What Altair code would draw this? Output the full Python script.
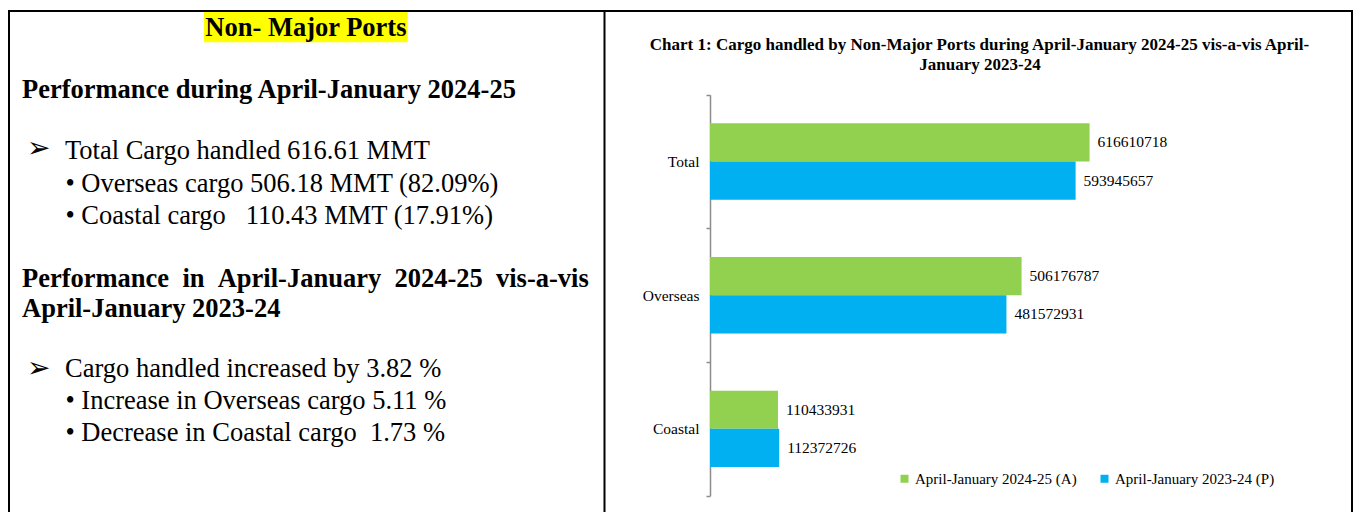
import altair as alt
import pandas as pd

# ---------------- data ----------------
categories = ["Total", "Overseas", "Coastal"]
series = ["April-January 2024-25 (A)", "April-January 2023-24 (P)"]
cargo_2024_25 = [616610718, 506176787, 110433931]
cargo_2023_24 = [593945657, 481572931, 112372726]
series_colors = ["#92D050", "#00B0F0"]

chart_title = [
    "Chart 1: Cargo handled by Non-Major Ports during April-January 2024-25 vis-a-vis April-",
    "January 2023-24",
]
panel_heading = "Non- Major Ports"
NB = "\u00a0"
section1_heading = "Performance during April-January 2024-25"
section1_main = "Total Cargo handled 616.61 MMT"
section1_bullets = [
    "\u2022 Overseas cargo 506.18 MMT (82.09%)",
    "\u2022 Coastal cargo " + NB * 2 + "110.43 MMT (17.91%)",
]
section2_heading = [
    "Performance" + NB * 2 + "in" + NB * 2 + "April-January" + NB * 2 + "2024-25" + NB * 2 + "vis-a-vis",
    "April-January 2023-24",
]
section2_main = "Cargo handled increased by 3.82 %"
section2_bullets = [
    "\u2022 Increase in Overseas cargo 5.11 %",
    "\u2022 Decrease in Coastal cargo " + NB + "1.73 %",
]
arrow = "\u27a2"

rows = []
for cat, a, b in zip(categories, cargo_2024_25, cargo_2023_24):
    rows.append({"category": cat, "series": series[0], "value": a})
    rows.append({"category": cat, "series": series[1], "value": b})
df = pd.DataFrame(rows)

# ---------------- layout ----------------
W, H = 1345, 504
SERIF = "Liberation Serif"
BODY = 26.5

x_scale = alt.Scale(domain=[0, 700000000], range=[702, 1132.9], nice=False, zero=True)
y_scale = alt.Scale(domain=categories, range=[86.7, 487.7], paddingInner=0, paddingOuter=0)
off_scale = alt.Scale(domain=series, paddingInner=0, paddingOuter=0.75)

bars = alt.Chart(df).mark_bar().encode(
    x=alt.X("value:Q", scale=x_scale, axis=None),
    y=alt.Y("category:N", scale=y_scale, sort=categories, title=None,
            axis=alt.Axis(orient="left", offset=-702, domainColor="#8c8c8c", domainWidth=1.5,
                          tickColor="#8c8c8c", tickWidth=1.5, tickSize=4, tickBand="extent",
                          labelFont=SERIF, labelFontSize=15.5, labelColor="black",
                          labelPadding=7, grid=False)),
    yOffset=alt.YOffset("series:N", scale=off_scale, sort=series),
    color=alt.Color("series:N", scale=alt.Scale(domain=series, range=series_colors),
                    legend=alt.Legend(orient="none", legendX=889, legendY=463,
                                      direction="horizontal", title=None,
                                      symbolType="square", symbolSize=64,
                                      symbolStrokeWidth=0, labelFont=SERIF,
                                      labelFontSize=15, labelColor="black",
                                      labelLimit=400, labelOffset=3,
                                      columnPadding=20, padding=0)),
)

labels = alt.Chart(df).mark_text(align="left", baseline="middle", dx=8, font=SERIF,
                                 fontSize=15.5, color="black").encode(
    x=alt.X("value:Q", scale=x_scale),
    y=alt.Y("category:N", scale=y_scale, sort=categories),
    yOffset=alt.YOffset("series:N", scale=off_scale, sort=series),
    text=alt.Text("value:Q", format="d"),
)


def txt(s, x, y, size=BODY, bold=False, align="left", font=SERIF):
    return alt.Chart(pd.DataFrame({"t": [s]})).mark_text(
        align=align, baseline="alphabetic", font=font, fontSize=size,
        fontWeight="bold" if bold else "normal", color="black"
    ).encode(x=alt.value(x), y=alt.value(y), text="t:N")


def vrule(x, y1, y2, w=2):
    return alt.Chart(pd.DataFrame({"a": [0]})).mark_rule(color="black", strokeWidth=w).encode(
        x=alt.value(x), y=alt.value(y1), y2=alt.value(y2))


def hrule(x1, x2, y, w=2):
    return alt.Chart(pd.DataFrame({"a": [0]})).mark_rule(color="black", strokeWidth=w).encode(
        x=alt.value(x1), x2=alt.value(x2), y=alt.value(y))


highlight = alt.Chart(pd.DataFrame({"a": [0]})).mark_rect(color="#FFFF00").encode(
    x=alt.value(196), x2=alt.value(399.7), y=alt.value(4), y2=alt.value(34.3))

layers = [
    highlight,
    hrule(0, W, 3),
    vrule(1, 3, H),
    vrule(596.5, 3, H),
    vrule(1344, 3, H),
    txt(panel_heading, 297.9, 28, bold=True, align="center"),
    txt(section1_heading, 14, 89.7, bold=True),
    txt(arrow, 19, 149.4, size=28, font="DejaVu Sans"),
    txt(section1_main, 57, 151),
    txt(section1_bullets[0], 57.4, 183.5),
    txt(section1_bullets[1], 57.4, 215.5),
    txt(section2_heading[0], 14, 278.7, bold=True),
    txt(section2_heading[1], 14, 308.7, bold=True),
    txt(arrow, 19, 369.4, size=28, font="DejaVu Sans"),
    txt(section2_main, 57, 368.7),
    txt(section2_bullets[0], 57.4, 401),
    txt(section2_bullets[1], 57.4, 432.7),
    txt(chart_title[0], 971.5, 42, size=17, bold=True, align="center"),
    txt(chart_title[1], 972, 62, size=17, bold=True, align="center"),
    bars,
    labels,
]

chart = alt.layer(*layers).properties(
    width=W, height=H, autosize=alt.AutoSizeParams(type="none"), padding=0
).configure_view(stroke=None)

chart.save("out.html", embed_options={"renderer": "svg", "actions": False})
